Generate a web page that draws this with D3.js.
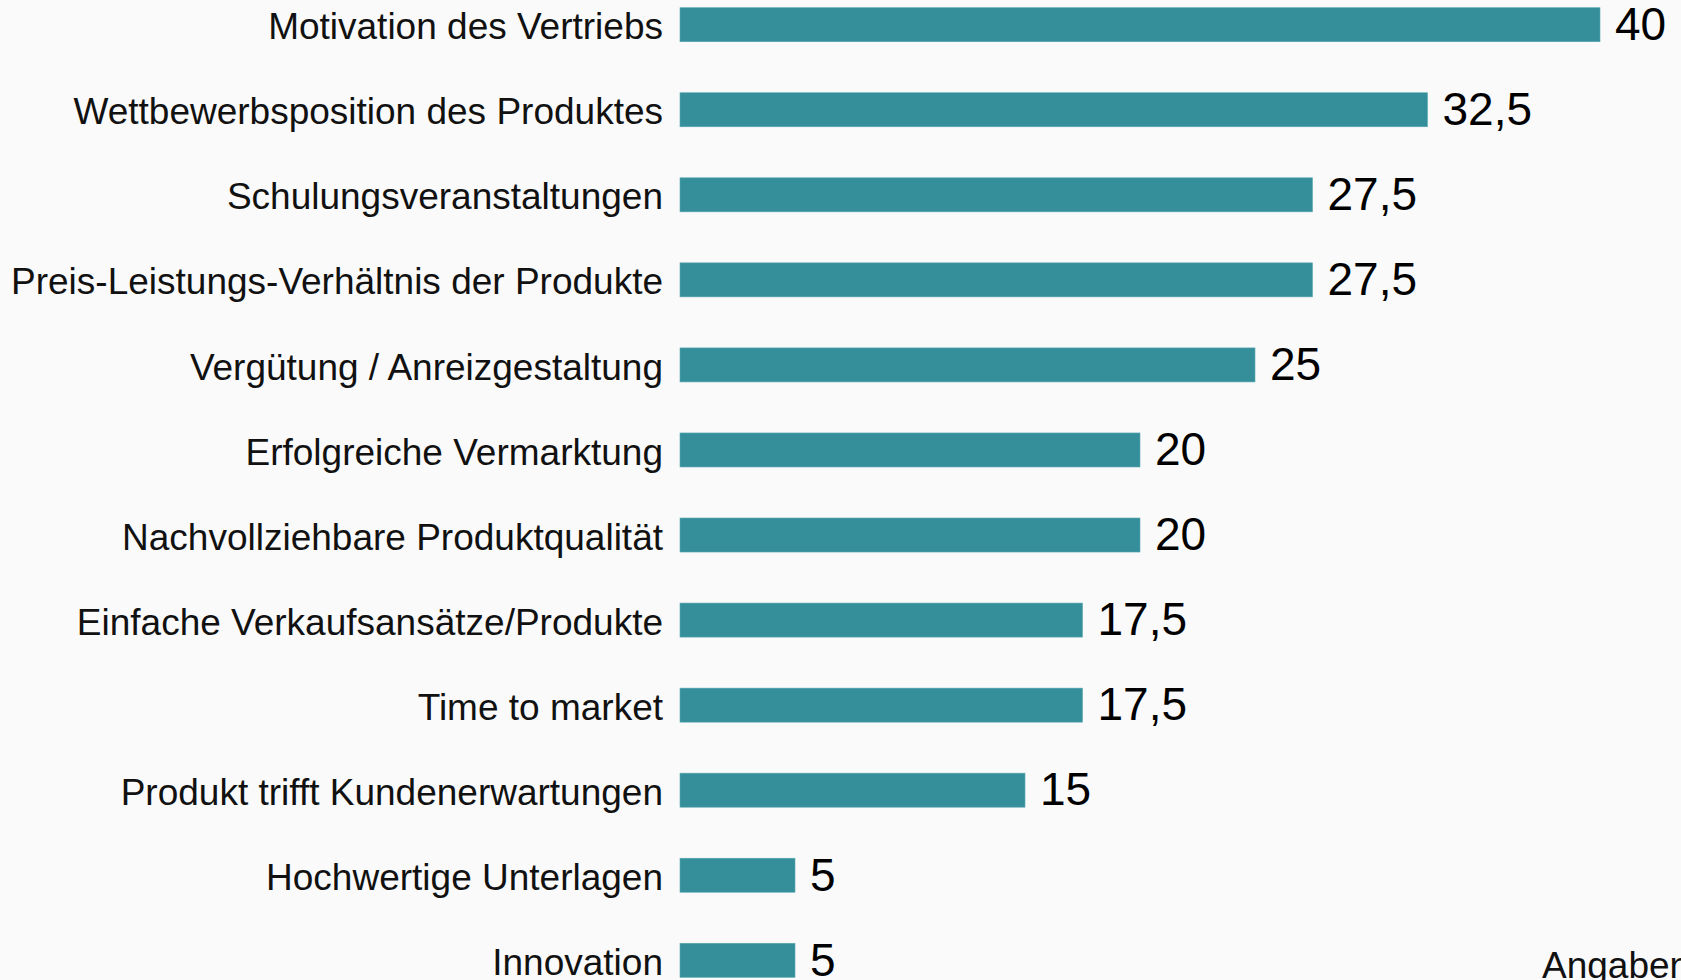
<!DOCTYPE html>
<html lang="de">
<head>
    <meta charset="UTF-8">
    <script src="https://cdn.jsdelivr.net/npm/d3@7"></script>
    <title>Chart</title>
    <style>
        html, body { margin: 0; padding: 0; background: #fafafa; overflow: hidden; }
        svg { display: block; font-family: "Liberation Sans", Arial, sans-serif; }
    </style>
</head>
<body>
<script>
    let categories = [
        "Motivation des Vertriebs",
        "Wettbewerbsposition des Produktes",
        "Schulungsveranstaltungen",
        "Preis-Leistungs-Verhältnis der Produkte",
        "Vergütung / Anreizgestaltung",
        "Erfolgreiche Vermarktung",
        "Nachvollziehbare Produktqualität",
        "Einfache Verkaufsansätze/Produkte",
        "Time to market",
        "Produkt trifft Kundenerwartungen",
        "Hochwertige Unterlagen",
        "Innovation"
    ];
    let values = [40, 32.5, 27.5, 27.5, 25, 20, 20, 17.5, 17.5, 15, 5, 5];
    let valueLabels = ["40", "32,5", "27,5", "27,5", "25", "20", "20", "17,5", "17,5", "15", "5", "5"];

    let width = 1681, height = 980;

    let svg = d3.select("body")
        .append("svg")
        .attr("width", width)
        .attr("height", height);

    // scales
    let xScale = d3.scaleLinear()
        .domain([0, 40])
        .range([680, 1600]);

    let yScale = d3.scaleBand()
        .domain(categories)
        .range([7.7, 977.3])
        .paddingInner(0.6)
        .paddingOuter(0);

    // bars
    svg.selectAll("rect")
        .data(values)
        .enter()
        .append("rect")
        .attr("x", xScale(0))
        .attr("y", (d, i) => yScale(categories[i]))
        .attr("width", d => xScale(d) - xScale(0))
        .attr("height", yScale.bandwidth())
        .attr("fill", "#358f9b")
        .attr("stroke", "#5aa8b2")
        .attr("stroke-width", 0.6);

    // category labels
    svg.selectAll(".cat")
        .data(categories)
        .enter()
        .append("text")
        .attr("class", "cat")
        .attr("x", 663)
        .attr("y", d => yScale(d) + yScale.bandwidth() - 2.4)
        .attr("text-anchor", "end")
        .attr("font-size", 37)
        .attr("fill", "#111")
        .text(d => d);

    // value labels
    svg.selectAll(".val")
        .data(values)
        .enter()
        .append("text")
        .attr("class", "val")
        .attr("x", d => xScale(d) + 15)
        .attr("y", (d, i) => yScale(categories[i]) + yScale.bandwidth() - 1.7)
        .attr("font-size", 46)
        .attr("fill", "#000")
        .text((d, i) => valueLabels[i]);

    // source note, cut off at the bottom
    svg.append("text")
        .attr("x", 1542)
        .attr("y", 978)
        .attr("font-size", 37)
        .attr("fill", "#111")
        .text("Angaben in Prozent");
</script>
</body>
</html>
